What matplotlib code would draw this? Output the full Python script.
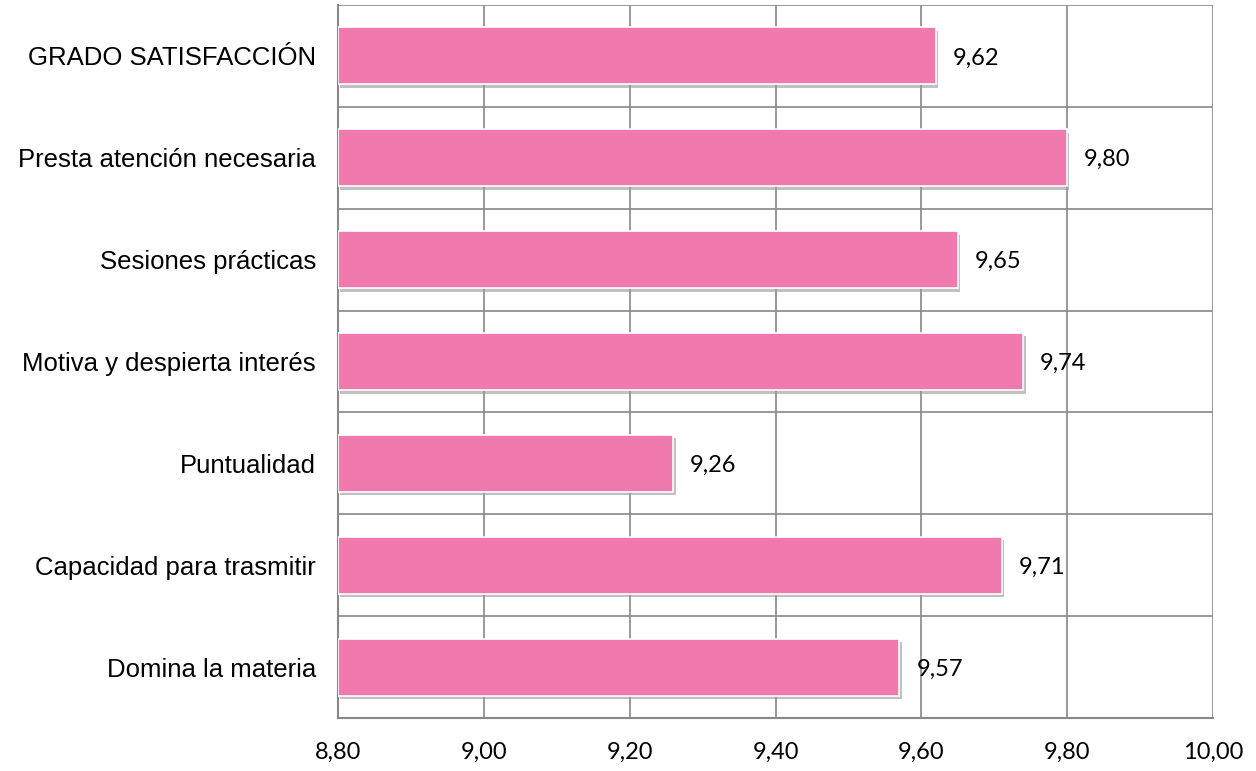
import matplotlib.pyplot as plt
import matplotlib.patheffects as pe
import numpy as np

categorias = ['Domina la materia', 'Capacidad para trasmitir', 'Puntualidad',
              'Motiva y despierta interés', 'Sesiones prácticas',
              'Presta atención necesaria', 'GRADO SATISFACCIÓN']
valores = [9.57, 9.71, 9.26, 9.74, 9.65, 9.80, 9.62]
xticks = [8.80, 9.00, 9.20, 9.40, 9.60, 9.80, 10.00]

fig = plt.figure(figsize=(12.56, 7.71), dpi=100)
ax = fig.add_axes([0.2691, 0.0687, 0.6967, 0.9248])

y = np.arange(len(categorias))
bars = ax.barh(y, np.array(valores) - 8.8, left=8.8, height=0.56,
               color='#F07AAE', edgecolor='white', linewidth=1.2, zorder=3)
for b in bars:
    b.set_path_effects([pe.SimplePatchShadow(offset=(1.5, -2.5), shadow_rgbFace='#999999', alpha=0.6),
                        pe.Normal()])

for yi, v in zip(y, valores):
    ax.text(v + 0.023, yi - 0.02, f'{v:.2f}'.replace('.', ','), va='center', ha='left',
            fontsize=17, family='Lato', color='black')

ax.set_xlim(8.8, 10.0)
ax.set_ylim(-0.5, len(categorias) - 0.5)
ax.set_xticks(xticks)
ax.set_xticklabels([f'{t:.2f}'.replace('.', ',') for t in xticks], family='Lato', fontsize=17)
ax.set_yticks(y)
ax.set_yticklabels(categorias, family='Liberation Sans', fontsize=18.5)
ax.set_yticks(np.arange(-0.5, len(categorias)), minor=True)

ax.grid(axis='x', color='#888888', linewidth=1.2, zorder=0)
ax.grid(axis='y', which='minor', color='#888888', linewidth=1.2, zorder=0)
ax.tick_params(axis='both', which='both', length=0)
ax.tick_params(axis='x', pad=17)
ax.tick_params(axis='y', pad=16)
for s in ['top', 'right']:
    ax.spines[s].set_visible(False)
for s in ['left', 'bottom']:
    ax.spines[s].set_color('#888888')
    ax.spines[s].set_linewidth(1.5)

fig.savefig('out.png', dpi=100)
